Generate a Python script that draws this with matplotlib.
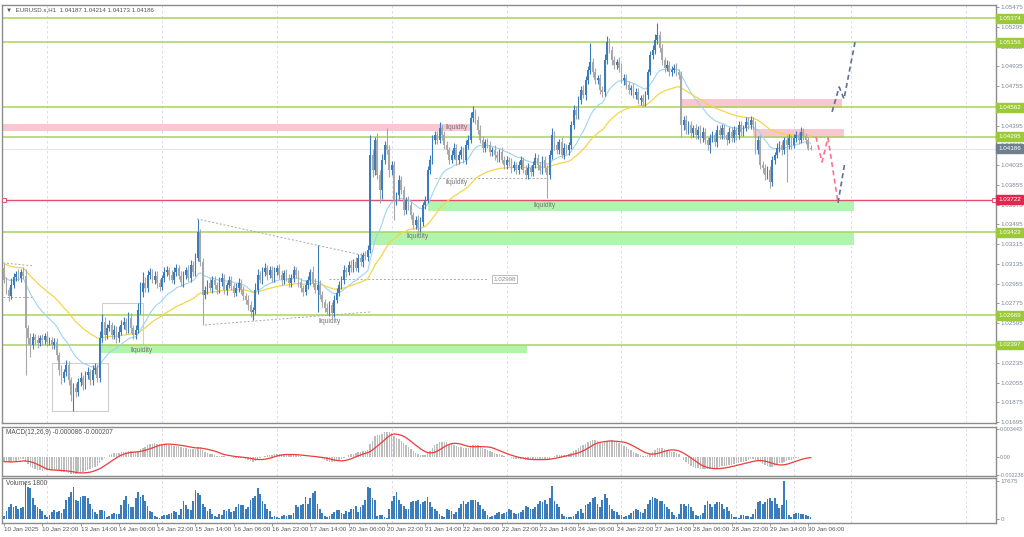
import numpy as np
import matplotlib.pyplot as plt

plt.rcParams['font.family'] = ['Liberation Sans', 'DejaVu Sans']

# prices are stored as 1e-5 units above 1.0 (4186 -> 1.04186)
first_open = 3100
closes = [
    2990, 2899, 2845, 2945, 3018, 3045, 3008, 3063, 3027, 2553, 2462, 2398, 2471, 2444, 2416, 2462, 2444, 2480, 2425, 2444,
    2398, 2425, 2307, 2170, 2097, 2152, 2216, 2079, 1943, 2006, 1970, 2061, 2097, 2034, 2125, 2152, 2079, 2170, 2189, 2097,
    2462, 2608, 2489, 2553, 2580, 2489, 2535, 2462, 2517, 2580, 2608, 2535, 2644, 2553, 2489, 2535, 2717, 2881, 2963, 2917,
    3036, 3063, 2990, 3027, 2963, 2927, 3008, 3063, 3081, 3036, 2990, 3063, 3100, 3027, 2972, 3036, 3081, 3008, 3127, 3063,
    3191, 3428, 3154, 2854, 2899, 2963, 2917, 2990, 2945, 2899, 2972, 3008, 2899, 2945, 2990, 2936, 2872, 2917, 2963, 2899,
    2845, 2808, 2762, 2699, 2717, 2899, 3036, 2990, 3063, 3100, 3036, 3081, 3008, 3063, 3100, 3036, 2990, 3054, 3008, 2963,
    3008, 3081, 3036, 2972, 2917, 2881, 2945, 2990, 3063, 2963, 2899, 2945, 2854, 2790, 2735, 2699, 2762, 2690, 2808, 2872,
    2945, 2990, 3081, 3063, 3127, 3100, 3154, 3100, 3191, 3154, 3218, 3200, 3264, 4129, 3992, 4266, 3947, 3810, 4083, 4220,
    4175, 3992, 4038, 3719, 3765, 3901, 3810, 3628, 3719, 3673, 3582, 3491, 3537, 3464, 3519, 3673, 3719, 3992, 4083, 4266,
    4311, 4266, 4375, 4311, 4220, 4175, 4083, 4129, 4193, 4083, 4129, 4175, 4083, 4220, 4266, 4466, 4521, 4448, 4357, 4266,
    4193, 4247, 4220, 4156, 4175, 4129, 4102, 4156, 4083, 4038, 4083, 4065, 4011, 4038, 3992, 4038, 4083, 3992, 3947, 4011,
    3974, 4038, 4102, 4038, 3992, 4083, 4011, 3947, 4129, 4311, 4220, 4175, 4247, 4129, 4193, 4175, 4220, 4402, 4539, 4493,
    4630, 4721, 4676, 4812, 4903, 4976, 4885, 4812, 4830, 4721, 4703, 4994, 5158, 5086, 4994, 4949, 4976, 4922, 4812, 4830,
    4767, 4721, 4739, 4676, 4703, 4630, 4648, 4612, 4676, 4885, 5040, 5086, 5177, 5222, 5104, 4994, 4922, 4949, 4885, 4903,
    4922, 4885, 4858, 4402, 4448, 4357, 4402, 4329, 4375, 4311, 4357, 4284, 4339, 4266, 4220, 4284, 4311, 4247, 4357, 4311,
    4375, 4311, 4266, 4339, 4284, 4357, 4311, 4402, 4339, 4375, 4430, 4402, 4448, 4402, 4175, 4266, 4038, 4011, 3947, 3992,
    3883, 4083, 4129, 4193, 4220, 4175, 4266, 4220, 4284, 4220, 4284, 4311, 4266, 4339, 4302, 4266, 4187, 4186,
]
wick_up = [
    40, 25, 30, 60, 35, 30, 40, 25, 45, 60, 30, 40, 35, 30, 45, 25, 35, 30, 40, 30,
    30, 35, 40, 30, 45, 30, 40, 35, 30, 45, 40, 35, 50, 30, 35, 40, 30, 45, 40, 35,
    60, 70, 40, 35, 45, 30, 40, 35, 50, 45, 40, 35, 50, 40, 30, 45, 60, 90, 100, 50,
    40, 35, 30, 45, 40, 35, 30, 40, 35, 30, 45, 40, 35, 30, 40, 35, 30, 45, 40, 35,
    40, 118, 30, 40, 35, 30, 45, 40, 35, 30, 40, 45, 35, 30, 40, 35, 30, 45, 40, 35,
    35, 30, 40, 35, 30, 60, 50, 35, 40, 45, 30, 35, 40, 45, 30, 35, 40, 30, 35, 40,
    35, 40, 30, 45, 35, 30, 40, 35, 30, 50, 45, 364, 40, 35, 30, 40, 35, 30, 45, 40,
    35, 40, 45, 30, 35, 40, 30, 45, 35, 40, 30, 35, 40, 182, 50, 30, 60, 40, 50, 40,
    155, 40, 35, 40, 30, 45, 35, 40, 30, 35, 40, 30, 35, 40, 45, 30, 35, 40, 45, 40,
    40, 35, 50, 30, 40, 35, 30, 45, 40, 35, 40, 35, 30, 45, 40, 50, 55, 30, 35, 40,
    35, 30, 40, 35, 30, 40, 35, 30, 45, 40, 35, 30, 40, 35, 30, 40, 35, 30, 45, 40,
    30, 35, 40, 35, 30, 40, 35, 30, 45, 60, 35, 40, 30, 45, 40, 35, 30, 40, 45, 35,
    40, 35, 45, 40, 35, 173, 40, 35, 30, 40, 35, 50, 55, 40, 35, 40, 30, 45, 40, 35,
    35, 40, 30, 45, 40, 35, 30, 40, 35, 30, 40, 45, 50, 110, 40, 35, 30, 45, 40, 35,
    35, 40, 30, 40, 35, 45, 40, 35, 30, 40, 35, 45, 40, 35, 30, 40, 35, 30, 45, 40,
    40, 35, 30, 45, 40, 35, 30, 40, 35, 30, 45, 40, 35, 30, 40, 35, 45, 40, 35, 40,
    35, 40, 30, 45, 40, 35, 30, 40, 35, 30, 40, 35, 30, 40, 35, 30, 27, 28,
]
wick_dn = [
    30, 40, 45, 25, 30, 35, 30, 40, 30, 428, 60, 109, 40, 35, 50, 30, 45, 35, 40, 30,
    35, 40, 45, 50, 60, 40, 35, 45, 60, 146, 50, 40, 35, 45, 40, 35, 50, 45, 40, 35,
    40, 35, 45, 40, 30, 35, 40, 45, 35, 30, 40, 35, 30, 45, 40, 35, 30, 40, 45, 35,
    35, 40, 30, 35, 45, 40, 30, 35, 40, 45, 30, 35, 40, 30, 35, 45, 40, 30, 35, 40,
    35, 30, 40, 274, 40, 35, 30, 45, 40, 35, 30, 40, 35, 45, 30, 40, 35, 30, 40, 35,
    40, 35, 45, 50, 75, 40, 35, 30, 40, 35, 45, 30, 40, 35, 30, 40, 45, 35, 30, 40,
    40, 35, 30, 45, 40, 35, 30, 40, 45, 35, 30, 200, 40, 45, 35, 30, 40, 45, 35, 30,
    30, 35, 40, 45, 30, 35, 40, 30, 35, 40, 45, 30, 35, 30, 60, 50, 40, 120, 80, 40,
    40, 60, 50, 180, 45, 40, 35, 50, 40, 45, 40, 35, 40, 65, 40, 35, 40, 30, 35, 40,
    35, 40, 30, 45, 40, 35, 40, 30, 35, 45, 40, 35, 30, 40, 35, 30, 40, 35, 40, 30,
    40, 35, 30, 40, 35, 45, 40, 35, 30, 40, 35, 40, 45, 30, 35, 40, 35, 30, 40, 35,
    40, 35, 30, 45, 40, 35, 40, 210, 40, 35, 45, 40, 35, 30, 40, 35, 45, 40, 35, 40,
    35, 40, 30, 45, 40, 35, 45, 40, 35, 40, 45, 40, 35, 30, 45, 40, 35, 40, 30, 45,
    40, 35, 45, 30, 40, 35, 45, 40, 35, 40, 30, 35, 40, 35, 40, 45, 35, 30, 40, 35,
    30, 35, 40, 109, 45, 40, 35, 45, 40, 35, 40, 45, 35, 40, 45, 75, 40, 35, 45, 40,
    35, 40, 45, 30, 35, 40, 45, 35, 40, 35, 30, 40, 35, 45, 40, 35, 40, 45, 50, 35,
    55, 40, 35, 30, 40, 45, 35, 337, 40, 35, 30, 40, 35, 30, 40, 35, 14, 13,
]
volumes = [
    1400, 3600, 5400, 6800, 5400, 5900, 4500, 5000, 5400, 16800, 15000, 14500, 10000, 6300, 5400, 4500, 3600, 1800, 900, 1800,
    3200, 4100, 3200, 3600, 2700, 4500, 9000, 10400, 12700, 15000, 9000, 8200, 10400, 10900, 10900, 10000, 6800, 4500, 3200, 2300,
    4100, 4100, 3600, 900, 1400, 2300, 2700, 2300, 2300, 6300, 9000, 10900, 6800, 5400, 5400, 10000, 12700, 10400, 11300, 8200,
    5900, 3600, 3200, 1400, 900, 500, 1400, 1800, 1800, 2300, 2700, 3600, 3200, 1800, 4500, 8200, 6300, 4500, 4100, 8200,
    13600, 12200, 11300, 6800, 5400, 3600, 4500, 2300, 1400, 900, 2300, 1800, 4100, 3600, 4500, 3200, 3600, 5400, 6800, 6300,
    6300, 4500, 5400, 9000, 10000, 10900, 14500, 11800, 8200, 6800, 4500, 3600, 900, 1400, 900, 500, 1400, 1800, 1400, 1800,
    1800, 2700, 6300, 5400, 6300, 6800, 10400, 6800, 10000, 12200, 13100, 6800, 4500, 2700, 1400, 900, 1400, 2300, 3200, 4100,
    4100, 2700, 2300, 3600, 3200, 4500, 4500, 5900, 3200, 5400, 6300, 9000, 15000, 14500, 10000, 9000, 1400, 1800, 1800, 900,
    500, 4500, 8200, 10900, 12700, 9000, 6800, 5900, 4500, 4500, 7700, 8200, 8600, 9000, 6800, 7700, 8200, 10400, 7700, 5400,
    4500, 3600, 2300, 1400, 900, 4500, 4100, 3600, 2300, 3200, 5000, 6800, 8200, 6800, 7700, 9000, 9000, 9000, 7700, 6300,
    4500, 3600, 1800, 900, 1400, 1800, 2700, 3200, 2300, 2700, 3200, 4500, 4100, 2700, 2300, 2700, 3200, 4100, 5900, 5400,
    4500, 4500, 5400, 6800, 8200, 7700, 9000, 6800, 10000, 15400, 8200, 6800, 5400, 2300, 1400, 900, 900, 900, 1400, 2300,
    3600, 4500, 2700, 6300, 7200, 7700, 10000, 10400, 6800, 5400, 9000, 11800, 10000, 6300, 4500, 3600, 3200, 1800, 1800, 900,
    1400, 1800, 2700, 3600, 4500, 4100, 3200, 2700, 4500, 6800, 9000, 10400, 10000, 9500, 8600, 8200, 6800, 5400, 4500, 3200,
    1800, 900, 2300, 7200, 6800, 5900, 6800, 5400, 3600, 1800, 1400, 1800, 2700, 6300, 8600, 6800, 5400, 6800, 7700, 7700,
    6800, 4500, 5400, 3600, 2300, 900, 900, 500, 1800, 1800, 1400, 1400, 900, 2300, 4500, 7700, 8200, 7200, 7700, 9500,
    10000, 8200, 10000, 6800, 5000, 6300, 17675, 9000, 1800, 900, 2300, 2700, 2700, 2300, 2300, 1800, 1400, 900,
]

time_labels = [
    '10 Jan 2025', '10 Jan 22:00', '13 Jan 14:00', '14 Jan 06:00', '14 Jan 22:00', '15 Jan 14:00',
    '16 Jan 06:00', '16 Jan 22:00', '17 Jan 14:00', '20 Jan 06:00', '20 Jan 22:00', '21 Jan 14:00',
    '22 Jan 06:00', '22 Jan 22:00', '23 Jan 14:00', '24 Jan 06:00', '24 Jan 22:00', '27 Jan 14:00',
    '28 Jan 06:00', '28 Jan 22:00', '29 Jan 14:00', '30 Jan 06:00',
]
label_step = 16
grid_bars = [18, 66, 114, 162, 210, 258, 306, 330, 354, 402]

green_levels = [1.05374, 1.05156, 1.04562, 1.04295, 1.03422, 1.02669, 1.02397]
red_level = 1.03722
last_price = 1.04186
price_ticks = [1.05475, 1.05295, 1.05115, 1.04935, 1.04755, 1.04575, 1.04395, 1.04215, 1.04035, 1.03855,
               1.03675, 1.03495, 1.03315, 1.03135, 1.02955, 1.02775, 1.02595, 1.02415, 1.02235, 1.02055,
               1.01875, 1.01695]
hidden_ticks = [1.04575, 1.02415]  # covered by the level tags
macd_ticks = [0.003443, 0.0, -0.002238]
vol_ticks = [0, 17675]

# zones: bar from, bar to, price low, price high
pink_zones = [(-1, 195, 1.04347, 1.04411), (282.5, 350, 1.04560, 1.04640), (313, 351, 1.04286, 1.04366)]
green_zones = [(177, 355, 1.03615, 1.03722), (153, 355, 1.03311, 1.03424), (40.5, 218.5, 1.02327, 1.02397)]
liquidity_notes = [(189, 1.04375), (189, 1.03874), (226, 1.03664), (173, 1.03382), (57.7, 1.02343), (136, 1.02608)]
dotted_lines = [
    ([80.6, 153], [1.03546, 1.03200]),
    ([84, 153.8], [1.02580, 1.02699]),
    ([136, 202], [1.02998, 1.02998]),
    ([180, 227], [1.03922, 1.03922]),
    ([-0.4, 12], [1.03145, 1.03118]),
    ([-0.4, 12], [1.02835, 1.02835]),
]
boxes = [(20, 43.5, 1.01797, 1.02234), (41, 58, 1.02398, 1.02781)]
path_up = ([346, 349, 351, 355.6], [1.04521, 1.04748, 1.04639, 1.05158])
path_down = ([339.3, 341.8, 344.3, 348.5], [1.04293, 1.04065, 1.04284, 1.03692])
path_rebound = ([348.5, 351.4], [1.03692, 1.04065])

fast_start, slow_start = 1.03018, 1.03145
macd_fast_start, macd_slow_start = 1.0300, 1.0306


def ema(x, n, start):
    out = np.empty(len(x))
    k = 2.0 / (n + 1)
    prev = start
    for i, v in enumerate(x):
        prev = prev + k * (v - prev)
        out[i] = prev
    return out


c = 1 + np.array(closes) / 1e5
o = np.r_[1 + first_open / 1e5, c[:-1]]
hi = np.maximum(o, c) + np.array(wick_up) / 1e5
lo = np.minimum(o, c) - np.array(wick_dn) / 1e5
x = np.arange(len(c))
bull = '#3b7cbd'
bear = '#a8a8a8'
cols = [bull if cc >= oo else bear for oo, cc in zip(o, c)]

macd = ema(c, 12, macd_fast_start) - ema(c, 26, macd_slow_start)
signal = np.array([macd[max(0, i - 8):i + 1].mean() for i in range(len(macd))])

W, H = 1024, 537
fig = plt.figure(figsize=(W / 100, H / 100), dpi=100)
left, right = 2 / W, 995.5 / W


def panel(top, bottom):
    return fig.add_axes([left, 1 - bottom / H, right - left, (bottom - top) / H])


ax = panel(5, 423)
ax_m = panel(427, 476)
ax_v = panel(478, 523)

small = 4.5
for a in (ax, ax_m, ax_v):
    a.set_xlim(-0.84, 414.3)
    for s in a.spines.values():
        s.set_color('#8c8c8c')
        s.set_linewidth(1.0)
    a.yaxis.tick_right()
    a.tick_params(axis='y', labelsize=small, colors='#8a8a8a', labelcolor='#7d8796',
                  length=2, width=0.6, pad=1.5)
    for gb in grid_bars:
        a.axvline(gb, color='#d6d6ee', lw=0.6, ls=(0, (3, 3)), zorder=0)
    a.set_xticks([])

# main chart
ax.set_ylim(1.01686, 1.05495)
ax.set_yticks(price_ticks)
ax.set_yticklabels(['' if t in hidden_ticks else '%.5f' % t for t in price_ticks])

for x0, x1, p0, p1 in pink_zones:
    ax.fill_between([x0, x1], p0, p1, color='#f9c6d1', lw=0, zorder=1)
for x0, x1, p0, p1 in green_zones:
    ax.fill_between([x0, x1], p0, p1, color='#b2f3ad', lw=0, zorder=1)
for x0, x1, p0, p1 in boxes:
    ax.plot([x0, x1, x1, x0, x0], [p0, p0, p1, p1, p0], color='#cfcfcf', lw=0.8, zorder=1)

for lv in green_levels:
    ax.axhline(lv, color='#a8d45a', lw=1.1, zorder=2)
ax.axhline(last_price, color='#e4e4f4', lw=0.8, zorder=1)
ax.axhline(red_level, color='#e05070', lw=1.0, zorder=2)
ax.plot([0, 413.5], [red_level, red_level], ls='none', marker='s', ms=2.5, mfc='white', mec='#e05070', mew=0.7,
        zorder=3, clip_on=False)

for xs, ys in dotted_lines:
    ax.plot(xs, ys, color='#a8a8a8', lw=0.7, ls=(0, (2, 2)), zorder=2)
ax.text(204.5, 1.02998, '1.02998', fontsize=small, color='#8a8a8a', va='center', ha='left',
        bbox=dict(boxstyle='square,pad=0.25', fc='white', ec='#b0b0b0', lw=0.6), zorder=4)

ax.plot(x, ema(c, 20, fast_start), color='#9fd4f0', lw=0.8, zorder=3)
ax.plot(x, ema(c, 50, slow_start), color='#f5d547', lw=0.9, zorder=3)

ax.vlines(x, lo, hi, colors=cols, lw=0.8, zorder=4)
body_lo = np.minimum(o, c)
body_h = np.maximum(np.abs(c - o), 0.00003)
ax.bar(x, body_h, bottom=body_lo, width=0.72, color=cols, lw=0, zorder=4)

for bx, py in liquidity_notes:
    ax.text(bx, py, 'liquidity', fontsize=4.8, color='#777777', ha='center', va='center', zorder=5)

ax.plot(*path_up, color='#5d6f96', lw=1.2, ls=(0, (3, 2)), zorder=5)
ax.plot(*path_down, color='#ff6f98', lw=1.2, ls=(0, (3, 2)), zorder=5)
ax.plot(*path_rebound, color='#5d6f96', lw=1.2, ls=(0, (3, 2)), zorder=5)


def price_tag(a, val, fc):
    a.annotate('%.5f' % val, xy=(1.0, val), xycoords=('axes fraction', 'data'),
               xytext=(2.0, 0), textcoords='offset points', fontsize=small, color='white',
               va='center', ha='left', annotation_clip=False, zorder=10,
               bbox=dict(boxstyle='square,pad=0.3', fc=fc, ec=fc))


for lv in green_levels:
    price_tag(ax, lv, '#9cc93a')
price_tag(ax, last_price, '#6f7f8f')
price_tag(ax, red_level, '#e0284e')

ax.text(0.004, 0.994, '\u25bc  EURUSD.s,H1  1.04187 1.04214 1.04173 1.04186', transform=ax.transAxes,
        fontsize=4.4, color='#505050', va='top', ha='left')

# MACD panel
ax_m.bar(x, macd, width=0.6, color='#bdbdbd', lw=0)
ax_m.plot(x, signal, color='#f03a3a', lw=0.9)
ax_m.set_ylim(-0.002336, 0.00369)
ax_m.set_yticks(macd_ticks)
ax_m.set_yticklabels(['0.003443', '0.00', '-0.002238'])
ax_m.tick_params(axis='y', labelsize=3.9, pad=1)
ax_m.text(0.004, 0.96, 'MACD(12,26,9) -0.000086 -0.000207', transform=ax_m.transAxes,
          fontsize=4.7, color='#505050', va='top', ha='left')

# volume panel
ax_v.bar(x, volumes, width=0.75, color='#3b7cbd', lw=0)
ax_v.set_ylim(-1860, 19070)
ax_v.set_yticks(vol_ticks)
ax_v.set_yticklabels(['0', '17675'])
ax_v.text(0.004, 0.95, 'Volumes 1800', transform=ax_v.transAxes,
          fontsize=4.7, color='#505050', va='top', ha='left')

ax_v.set_xticks(np.arange(len(time_labels)) * label_step)
ax_v.set_xticklabels(time_labels)
ax_v.tick_params(axis='x', labelsize=small, colors='#8a8a8a', labelcolor='#555555', length=2, width=0.6, pad=1)
for t in ax_v.get_xticklabels():
    t.set_ha('left')

fig.savefig('out.png', dpi=100, facecolor='white')
